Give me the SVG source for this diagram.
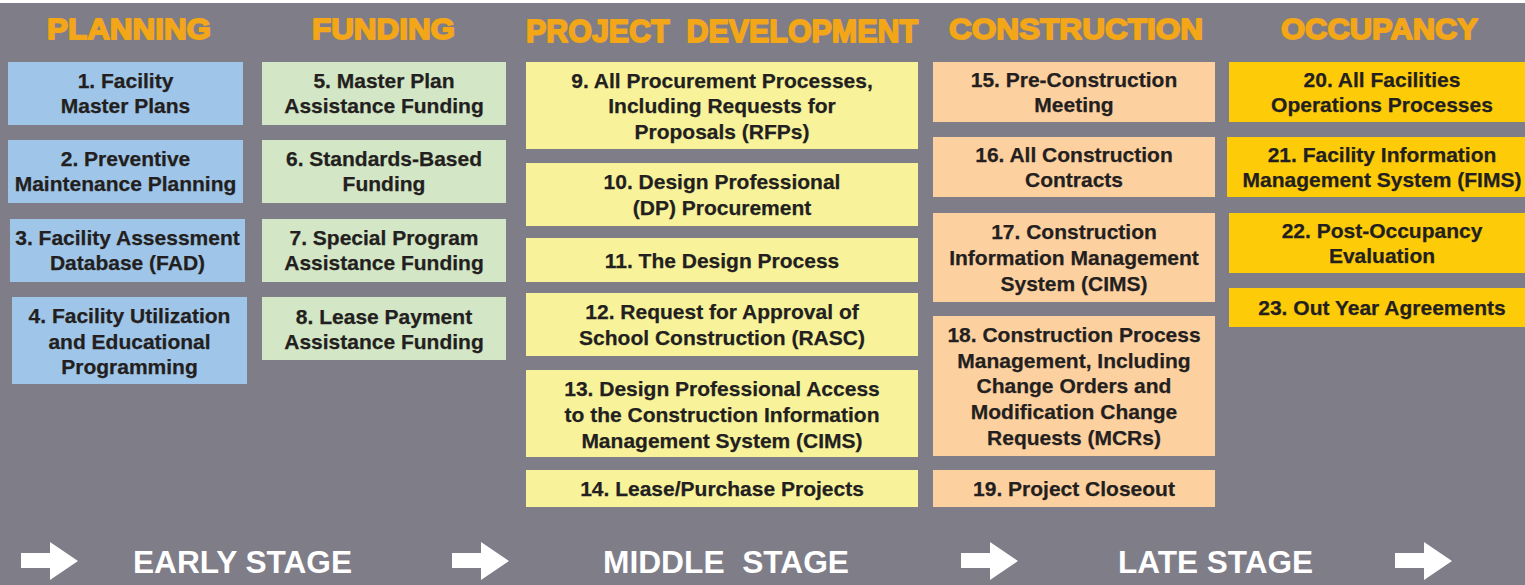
<svg xmlns="http://www.w3.org/2000/svg" width="1525" height="585" viewBox="0 0 1525 585">
  <style>
    .bg { fill: #7e7d88; }
    .head { font-family: "Liberation Sans", Arial, sans-serif; font-weight: bold; fill: #f2a618; stroke: #f2a618; stroke-width: 1.8; stroke-linejoin: round; }
    .lbl { font-family: "Liberation Sans", Arial, sans-serif; font-weight: bold; font-size: 21px; fill: #231f20; stroke: #231f20; stroke-width: 0.25; text-anchor: middle; }
    .stage { font-family: "Liberation Sans", Arial, sans-serif; font-weight: bold; font-size: 32px; fill: #ffffff; }
    .plan { fill: #9fc5e8; }
    .fund { fill: #d3e6c5; }
    .dev { fill: #f8f39b; }
    .cons { fill: #fdd09f; }
    .occ { fill: #fdcb08; }
    .arrow { fill: #ffffff; }
  </style>
  <defs>
    <polygon id="stageArrow" points="0,553 29,553 29,542 57,561 29,580 29,568 0,568"/>
  </defs>

  <!-- backdrop -->
  <rect x="0" y="0" width="1525" height="585" fill="#ffffff"/>
  <rect class="bg" x="0" y="3" width="1525" height="582"/>

  <!-- phase headings -->
  <g id="headings">
    <text class="head" x="47" y="38.5" font-size="30" textLength="164" lengthAdjust="spacingAndGlyphs">PLANNING</text>
    <text class="head" x="312" y="38.5" font-size="30" textLength="143" lengthAdjust="spacingAndGlyphs">FUNDING</text>
    <text class="head" x="526" y="41.5" font-size="32" textLength="392" lengthAdjust="spacingAndGlyphs" xml:space="preserve">PROJECT  DEVELOPMENT</text>
    <text class="head" x="949" y="38.5" font-size="30" textLength="254" lengthAdjust="spacingAndGlyphs">CONSTRUCTION</text>
    <text class="head" x="1281" y="38.5" font-size="30" textLength="197" lengthAdjust="spacingAndGlyphs">OCCUPANCY</text>
  </g>

  <!-- planning column -->
  <g id="n1"><rect class="plan" x="8" y="62" width="235" height="63"/>
    <text class="lbl"><tspan x="125.5" y="87.6">1. Facility</tspan><tspan x="125.5" y="113.2">Master Plans</tspan></text></g>
  <g id="n2"><rect class="plan" x="8" y="140" width="235" height="63"/>
    <text class="lbl"><tspan x="125.5" y="165.8">2. Preventive</tspan><tspan x="125.5" y="191.4">Maintenance Planning</tspan></text></g>
  <g id="n3"><rect class="plan" x="10" y="219" width="235" height="63"/>
    <text class="lbl"><tspan x="127.5" y="244.8">3. Facility Assessment</tspan><tspan x="127.5" y="270.4">Database (FAD)</tspan></text></g>
  <g id="n4"><rect class="plan" x="12" y="297" width="235" height="87"/>
    <text class="lbl"><tspan x="129.5" y="323.2">4. Facility Utilization</tspan><tspan x="129.5" y="348.8">and Educational</tspan><tspan x="129.5" y="374.4">Programming</tspan></text></g>

  <!-- funding column -->
  <g id="n5"><rect class="fund" x="262" y="62" width="244" height="63"/>
    <text class="lbl"><tspan x="384" y="87.6">5. Master Plan</tspan><tspan x="384" y="113.2">Assistance Funding</tspan></text></g>
  <g id="n6"><rect class="fund" x="262" y="140" width="244" height="63"/>
    <text class="lbl"><tspan x="384" y="165.8">6. Standards-Based</tspan><tspan x="384" y="191.4">Funding</tspan></text></g>
  <g id="n7"><rect class="fund" x="262" y="219" width="244" height="63"/>
    <text class="lbl"><tspan x="384" y="244.8">7. Special Program</tspan><tspan x="384" y="270.4">Assistance Funding</tspan></text></g>
  <g id="n8"><rect class="fund" x="262" y="297" width="244" height="63"/>
    <text class="lbl"><tspan x="384" y="323.6">8. Lease Payment</tspan><tspan x="384" y="349.2">Assistance Funding</tspan></text></g>

  <!-- project development column -->
  <g id="n9"><rect class="dev" x="526" y="62" width="392" height="87"/>
    <text class="lbl"><tspan x="722" y="87.6">9. All Procurement Processes,</tspan><tspan x="722" y="113.2">Including Requests for</tspan><tspan x="722" y="138.8">Proposals (RFPs)</tspan></text></g>
  <g id="n10"><rect class="dev" x="526" y="163" width="392" height="63"/>
    <text class="lbl"><tspan x="722" y="189.2">10. Design Professional</tspan><tspan x="722" y="214.8">(DP) Procurement</tspan></text></g>
  <g id="n11"><rect class="dev" x="526" y="238" width="392" height="44"/>
    <text class="lbl" x="722" y="267.5">11. The Design Process</text></g>
  <g id="n12"><rect class="dev" x="526" y="293" width="392" height="63"/>
    <text class="lbl"><tspan x="722" y="319.2">12. Request for Approval of</tspan><tspan x="722" y="344.8">School Construction (RASC)</tspan></text></g>
  <g id="n13"><rect class="dev" x="526" y="370" width="392" height="87"/>
    <text class="lbl"><tspan x="722" y="396">13. Design Professional Access</tspan><tspan x="722" y="421.8">to the Construction Information</tspan><tspan x="722" y="447.6">Management System (CIMS)</tspan></text></g>
  <g id="n14"><rect class="dev" x="526" y="470" width="392" height="37"/>
    <text class="lbl" x="722" y="495.5">14. Lease/Purchase Projects</text></g>

  <!-- construction column -->
  <g id="n15"><rect class="cons" x="933" y="62" width="282" height="60"/>
    <text class="lbl"><tspan x="1074" y="86.6">15. Pre-Construction</tspan><tspan x="1074" y="112.2">Meeting</tspan></text></g>
  <g id="n16"><rect class="cons" x="933" y="137" width="282" height="60"/>
    <text class="lbl"><tspan x="1074" y="161.6">16. All Construction</tspan><tspan x="1074" y="187.2">Contracts</tspan></text></g>
  <g id="n17"><rect class="cons" x="933" y="213" width="282" height="89"/>
    <text class="lbl"><tspan x="1074" y="239.4">17. Construction</tspan><tspan x="1074" y="265">Information Management</tspan><tspan x="1074" y="290.6">System (CIMS)</tspan></text></g>
  <g id="n18"><rect class="cons" x="933" y="316" width="282" height="140"/>
    <text class="lbl"><tspan x="1074" y="342">18. Construction Process</tspan><tspan x="1074" y="367.8">Management, Including</tspan><tspan x="1074" y="393.4">Change Orders and</tspan><tspan x="1074" y="419">Modification Change</tspan><tspan x="1074" y="444.8">Requests (MCRs)</tspan></text></g>
  <g id="n19"><rect class="cons" x="933" y="470" width="282" height="37"/>
    <text class="lbl" x="1074" y="495.5">19. Project Closeout</text></g>

  <!-- occupancy column -->
  <g id="n20"><rect class="occ" x="1229" y="62" width="310" height="60"/>
    <text class="lbl"><tspan x="1382" y="86.6">20. All Facilities</tspan><tspan x="1382" y="112.2">Operations Processes</tspan></text></g>
  <g id="n21"><rect class="occ" x="1227" y="137" width="310" height="60"/>
    <text class="lbl"><tspan x="1382" y="161.6">21. Facility Information</tspan><tspan x="1382" y="187.2">Management System (FIMS)</tspan></text></g>
  <g id="n22"><rect class="occ" x="1229" y="213" width="310" height="60"/>
    <text class="lbl"><tspan x="1382" y="237.6">22. Post-Occupancy</tspan><tspan x="1382" y="263.2">Evaluation</tspan></text></g>
  <g id="n23"><rect class="occ" x="1229" y="288" width="310" height="39"/>
    <text class="lbl" x="1382" y="314.8">23. Out Year Agreements</text></g>

  <!-- stage arrows along the bottom -->
  <g id="connectors">
    <use href="#stageArrow" class="arrow" x="21"/>
    <use href="#stageArrow" class="arrow" x="452"/>
    <use href="#stageArrow" class="arrow" x="961"/>
    <use href="#stageArrow" class="arrow" x="1395"/>
  </g>

  <!-- stage labels -->
  <g id="stages">
    <text class="stage" x="133" y="573" textLength="219" lengthAdjust="spacingAndGlyphs">EARLY STAGE</text>
    <text class="stage" x="603" y="573" textLength="246" lengthAdjust="spacingAndGlyphs" xml:space="preserve">MIDDLE  STAGE</text>
    <text class="stage" x="1118" y="573" textLength="195" lengthAdjust="spacingAndGlyphs">LATE STAGE</text>
  </g>
</svg>
